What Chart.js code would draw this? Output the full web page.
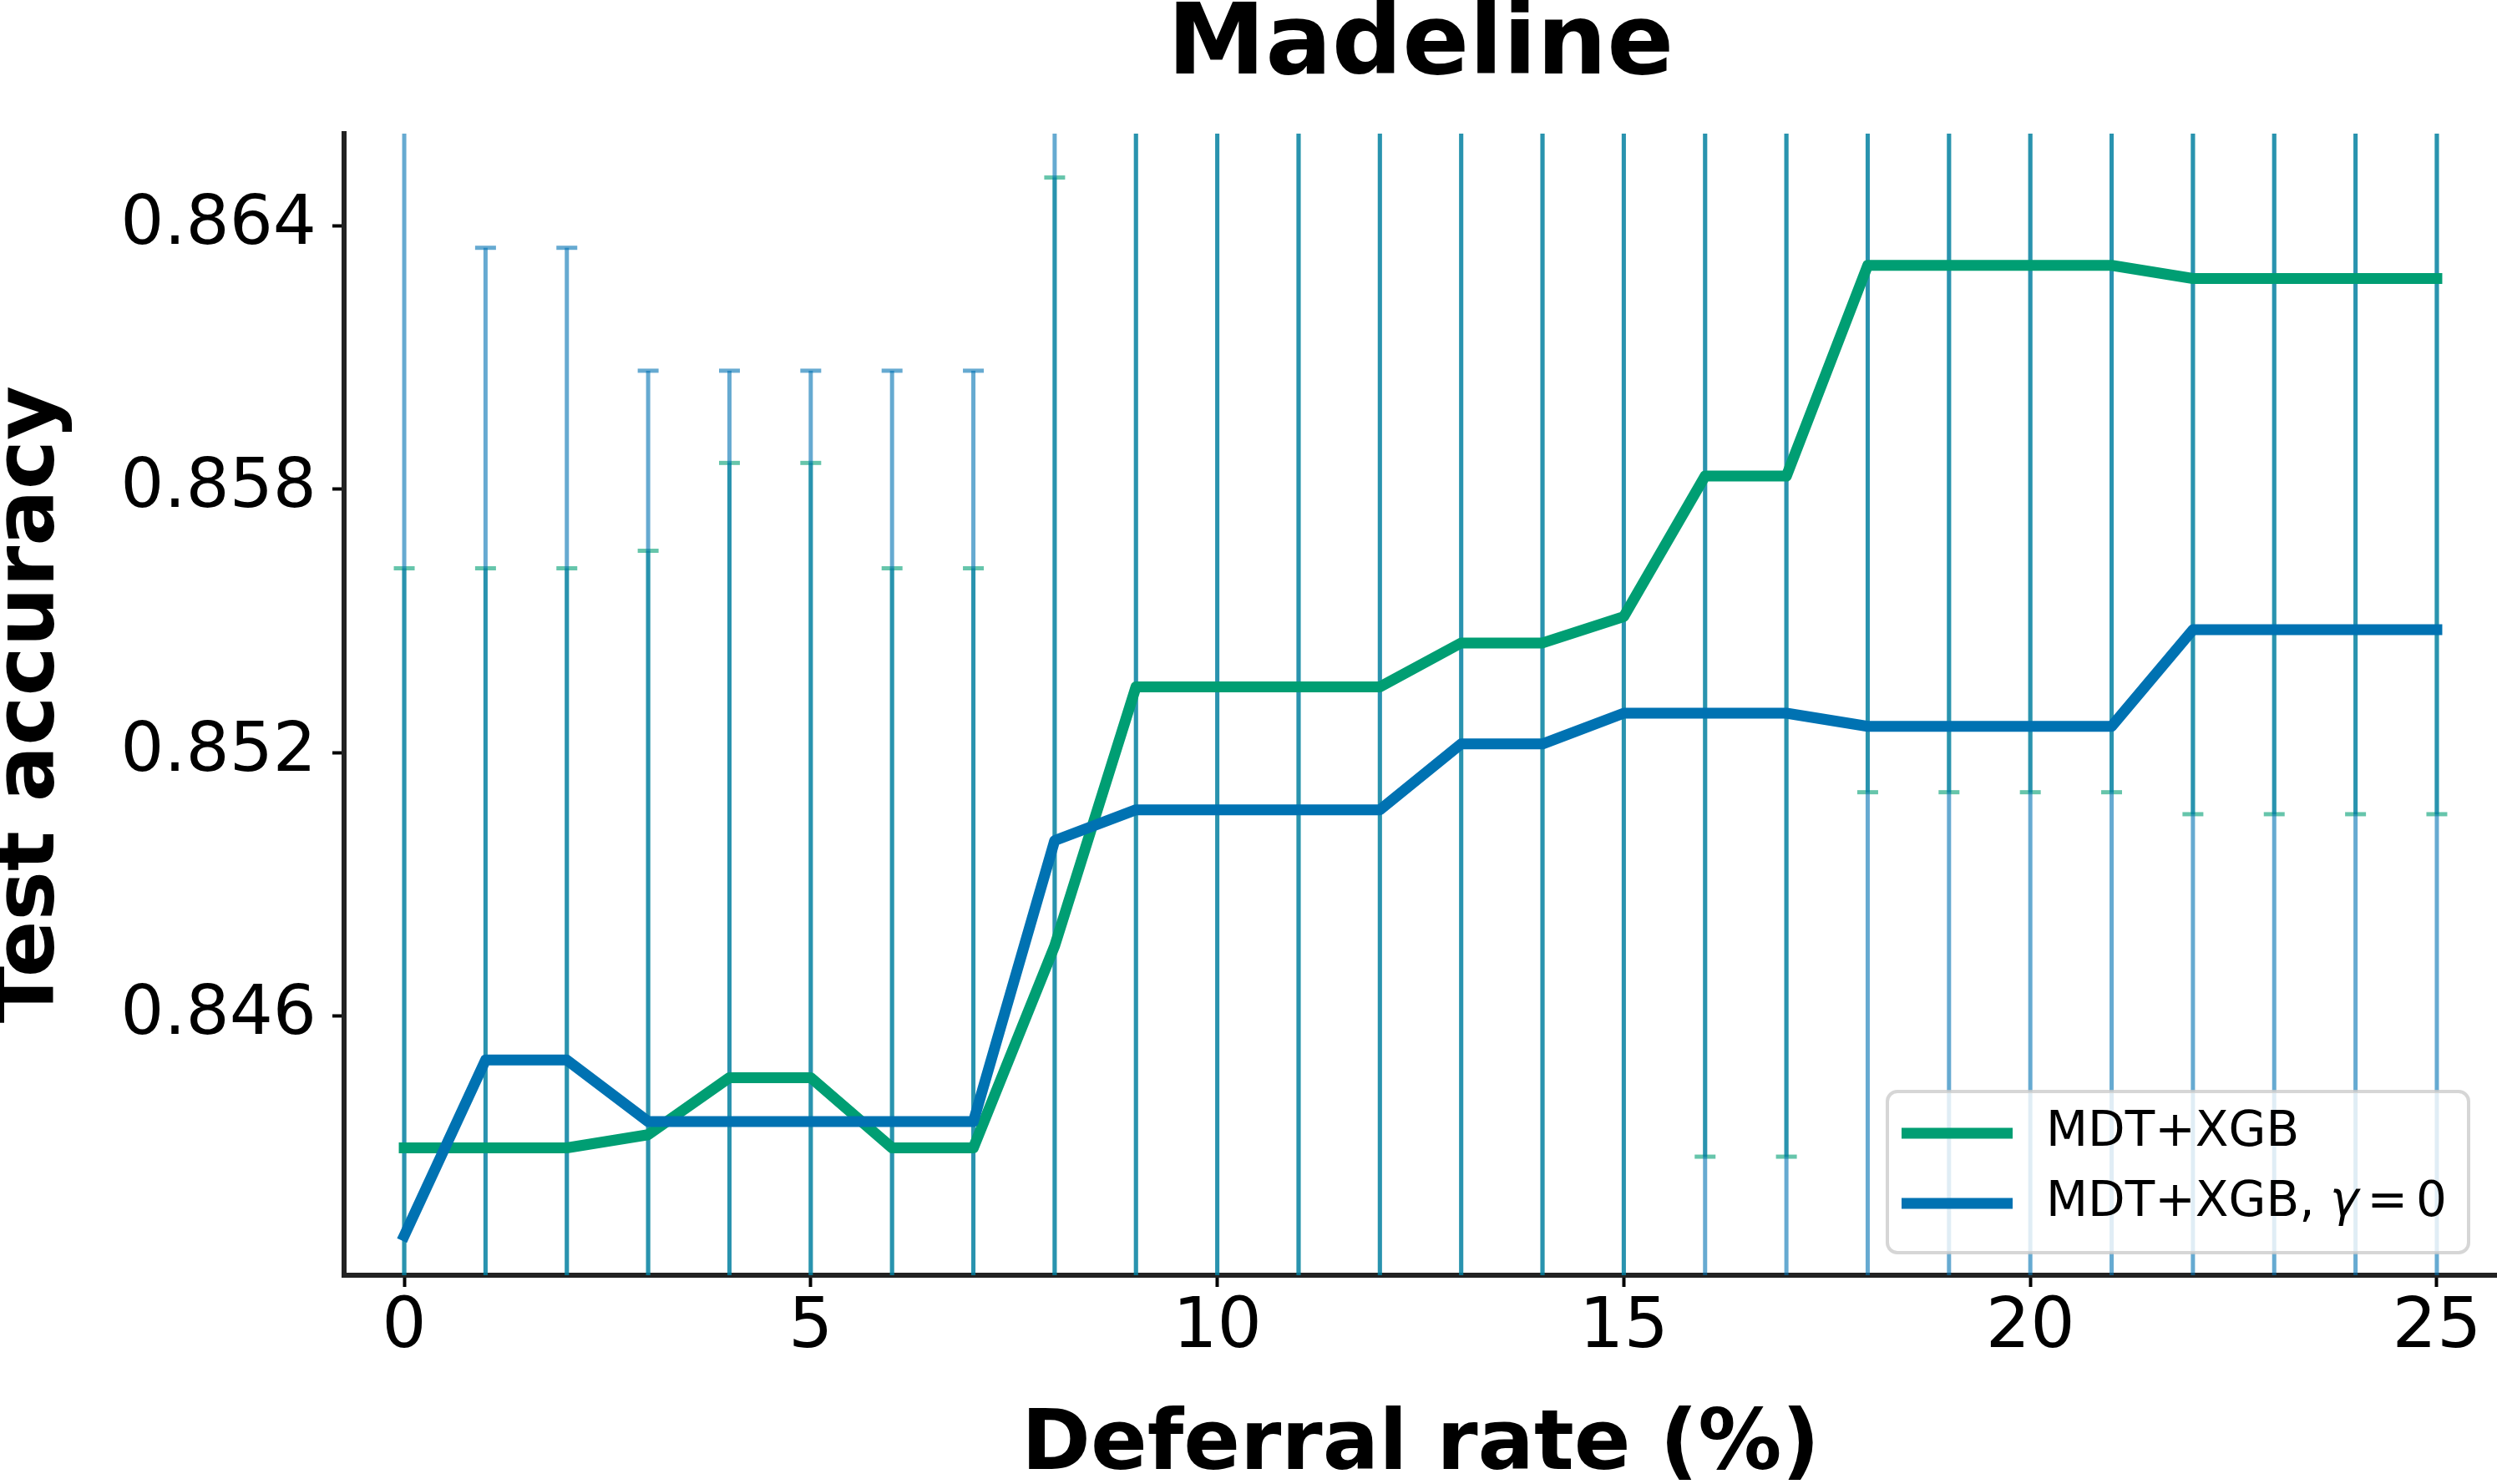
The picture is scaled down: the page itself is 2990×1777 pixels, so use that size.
<!DOCTYPE html>
<html>
<head>
<meta charset="utf-8">
<script src="https://cdn.jsdelivr.net/npm/chart.js@4.4.1/dist/chart.umd.min.js"></script>
<style>
  html, body { margin: 0; padding: 0; background: #ffffff; }
</style>
</head>
<body>
<canvas id="myChart" width="2990" height="1777"></canvas>
<script>
// Values
const deferralRate = [0, 1, 2, 3, 4, 5, 6, 7, 8, 9, 10, 11, 12, 13, 14, 15, 16, 17, 18, 19, 20, 21, 22, 23, 24, 25];

const mdtXgbAcc = [0.8430, 0.8430, 0.8430, 0.8433, 0.8446, 0.8446, 0.8430, 0.8430, 0.8476, 0.8535,
  0.8535, 0.8535, 0.8535, 0.8545, 0.8545, 0.8551, 0.8583, 0.8583, 0.8631, 0.8631,
  0.8631, 0.8631, 0.8628, 0.8628, 0.8628, 0.8628];
const mdtXgbErr = [0.0132, 0.0132, 0.0132, 0.0133, 0.0140, 0.0140, 0.0132, 0.0132, 0.0175, 0.0165,
  0.0165, 0.0165, 0.0165, 0.0170, 0.0170, 0.0175, 0.0155, 0.0155, 0.0120, 0.0120,
  0.0120, 0.0120, 0.0122, 0.0122, 0.0122, 0.0122];

const gamma0Acc = [0.8410, 0.8450, 0.8450, 0.8436, 0.8436, 0.8436, 0.8436, 0.8436, 0.8500, 0.8507,
  0.8507, 0.8507, 0.8507, 0.8522, 0.8522, 0.8529, 0.8529, 0.8529, 0.8526, 0.8526,
  0.8526, 0.8526, 0.8548, 0.8548, 0.8548, 0.8548];
const gamma0Err = [0.0270, 0.0185, 0.0185, 0.0171, 0.0171, 0.0171, 0.0171, 0.0171, 0.0200, 0.0180,
  0.0180, 0.0180, 0.0180, 0.0170, 0.0170, 0.0170, 0.0170, 0.0170, 0.0180, 0.0180,
  0.0180, 0.0180, 0.0180, 0.0180, 0.0180, 0.0180];

const seriesLabels = ["MDT+XGB", "MDT+XGB, γ = 0"];
const xTickValues = [0, 5, 10, 15, 20, 25];
const yTickValues = [0.846, 0.852, 0.858, 0.864];

const FONT = "DejaVu Sans";
const GREEN = "#009E73";
const BLUE = "#0072B2";

const toPoints = (ys) => deferralRate.map((x, i) => ({ x: x, y: ys[i] }));

// error bars drawn under the lines, clipped to the axes
const errorBarPlugin = {
  id: "errorBars",
  beforeDatasetsDraw(chart) {
    const { ctx, chartArea, scales } = chart;
    ctx.save();
    ctx.beginPath();
    ctx.rect(chartArea.left, chartArea.top, chartArea.right - chartArea.left, chartArea.bottom - chartArea.top);
    ctx.clip();
    chart.data.datasets.forEach((ds) => {
      ctx.strokeStyle = ds.errorColor;
      ctx.lineWidth = 5;
      ctx.lineCap = "butt";
      ds.data.forEach((pt, i) => {
        const err = ds.errors[i];
        const x = scales.x.getPixelForValue(pt.x);
        const yTop = scales.y.getPixelForValue(pt.y + err);
        const yBot = scales.y.getPixelForValue(pt.y - err);
        ctx.beginPath();
        ctx.moveTo(x, yTop);
        ctx.lineTo(x, yBot);
        ctx.stroke();
        ctx.beginPath();
        ctx.moveTo(x - 12.5, yTop);
        ctx.lineTo(x + 12.5, yTop);
        ctx.stroke();
        ctx.beginPath();
        ctx.moveTo(x - 12.5, yBot);
        ctx.lineTo(x + 12.5, yBot);
        ctx.stroke();
      });
    });
    ctx.restore();
  },
};

// legend box in the lower right corner of the axes
const cornerLegendPlugin = {
  id: "cornerLegend",
  afterDraw(chart) {
    const { ctx, chartArea } = chart;
    const w = 696;
    const h = 193;
    const left = chartArea.right - 34 - w;
    const top = chartArea.bottom - 27 - h;

    ctx.save();
    ctx.beginPath();
    ctx.roundRect(left, top, w, h, 12);
    ctx.fillStyle = "rgba(255,255,255,0.8)";
    ctx.fill();
    ctx.lineWidth = 4;
    ctx.strokeStyle = "rgba(204,204,204,0.8)";
    ctx.stroke();

    const rows = [top + 50, top + 134];
    chart.data.datasets.forEach((ds, i) => {
      const y = rows[i];
      ctx.beginPath();
      ctx.strokeStyle = ds.borderColor;
      ctx.lineWidth = 13;
      ctx.lineCap = "butt";
      ctx.moveTo(left + 17, y);
      ctx.lineTo(left + 150, y);
      ctx.stroke();

      ctx.fillStyle = "#000000";
      ctx.textBaseline = "middle";
      ctx.textAlign = "left";
      let tx = left + 190;
      const label = ds.label;
      const gi = label.indexOf("γ");
      ctx.font = `58px "${FONT}"`;
      if (gi < 0) {
        ctx.fillText(label, tx, y);
        return;
      }
      // math part: italic gamma, then "= 0" with mathtext-like spacing
      const head = label.slice(0, gi);
      const tail = label.slice(gi + 1).trim().split(/\s+/);
      ctx.fillText(head, tx, y);
      tx += ctx.measureText(head).width;
      ctx.font = `italic 58px "${FONT}"`;
      ctx.fillText("γ", tx, y);
      tx += ctx.measureText("γ").width + 10;
      ctx.font = `58px "${FONT}"`;
      tail.forEach((tok) => {
        ctx.fillText(tok, tx, y);
        tx += ctx.measureText(tok).width + 10;
      });
    });
    ctx.restore();
  },
};

const ctx = document.getElementById("myChart").getContext("2d");
const myChart = new Chart(ctx, {
  type: "line",
  data: {
    datasets: [
      {
        label: seriesLabels[0],
        data: toPoints(mdtXgbAcc),
        errors: mdtXgbErr,
        errorColor: "rgba(0,158,115,0.6)",
        borderColor: GREEN,
        borderWidth: 13,
        pointRadius: 0,
        tension: 0,
        fill: false,
        borderJoinStyle: "round",
        borderCapStyle: "square",
        order: 1,
      },
      {
        label: seriesLabels[1],
        data: toPoints(gamma0Acc),
        errors: gamma0Err,
        errorColor: "rgba(0,114,178,0.6)",
        borderColor: BLUE,
        borderWidth: 13,
        pointRadius: 0,
        tension: 0,
        fill: false,
        borderJoinStyle: "round",
        borderCapStyle: "square",
        order: 0,
      },
    ],
  },
  options: {
    responsive: false,
    devicePixelRatio: 1,
    animation: false,
    events: [],
    layout: { padding: 0 },
    plugins: {
      legend: { display: false },
      tooltip: { enabled: false },
      title: {
        display: true,
        fullSize: false,
        text: "Madeline",
        color: "#000000",
        font: { family: FONT, size: 118, weight: "bold", lineHeight: 1 },
        padding: { top: -2, bottom: 44 },
      },
    },
    scales: {
      x: {
        type: "linear",
        min: -0.74,
        max: 25.74,
        afterBuildTicks: (scale) => {
          scale.ticks = xTickValues.map((v) => ({ value: v }));
        },
        afterFit: (scale) => {
          scale.height = 250;
          scale.paddingLeft = 0;
          scale.paddingRight = 0;
        },
        border: { display: true, color: "#222222", width: 6 },
        grid: {
          display: true,
          drawOnChartArea: false,
          drawTicks: true,
          tickLength: 14,
          tickWidth: 4,
          tickColor: "#000000",
        },
        ticks: {
          color: "#000000",
          font: { family: FONT, size: 84 },
          padding: 0,
          maxRotation: 0,
          autoSkip: false,
        },
        title: {
          display: true,
          text: "Deferral rate (%)",
          color: "#000000",
          font: { family: FONT, size: 100, weight: "bold", lineHeight: 1 },
          padding: { top: 0, bottom: -6 },
        },
      },
      y: {
        type: "linear",
        min: 0.8401,
        max: 0.8661,
        afterBuildTicks: (scale) => {
          scale.ticks = yTickValues.map((v) => ({ value: v }));
        },
        afterFit: (scale) => {
          scale.width = 412;
          scale.paddingTop = 0;
          scale.paddingBottom = 0;
        },
        border: { display: true, color: "#222222", width: 6 },
        grid: {
          display: true,
          drawOnChartArea: false,
          drawTicks: true,
          tickLength: 14,
          tickWidth: 4,
          tickColor: "#000000",
        },
        ticks: {
          color: "#000000",
          font: { family: FONT, size: 82 },
          padding: 19,
          callback: (value) => Number(value).toFixed(3),
        },
        title: {
          display: true,
          text: "Test accuracy",
          color: "#000000",
          font: { family: FONT, size: 100, weight: "bold", lineHeight: 1 },
          padding: { top: -12, bottom: 0 },
        },
      },
    },
  },
  plugins: [errorBarPlugin, cornerLegendPlugin],
});
</script>
</body>
</html>
